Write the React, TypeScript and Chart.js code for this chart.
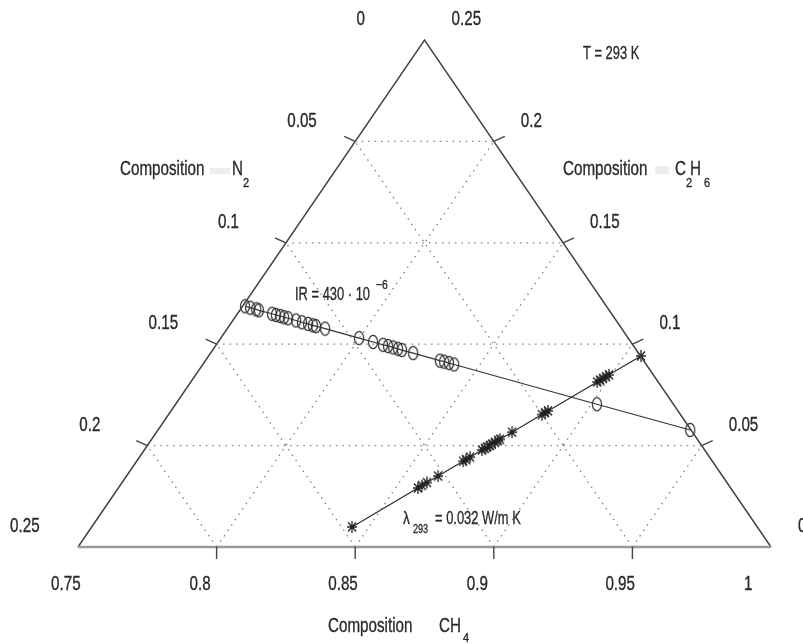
import React, { useEffect, useRef } from "react";
import { Chart, registerables } from "chart.js";
Chart.register(...registerables);

// Ternary axes (CH4 bottom, N2 left, C2H6 right)
const ch4Ticks = [0.75, 0.8, 0.85, 0.9, 0.95, 1];
const n2Ticks = [0, 0.05, 0.1, 0.15, 0.2, 0.25];
const c2h6Ticks = [0.25, 0.2, 0.15, 0.1, 0.05, 0];
const innerLevels = [0.05, 0.1, 0.15, 0.2];
const ch4GridLevels = [0.8, 0.85, 0.9, 0.95];

// Series "IR = 430·10^-6" (circles)
const irCH4 = [0.7509, 0.7531, 0.7557, 0.7569, 0.7625, 0.7642, 0.766, 0.7677, 0.7694, 0.7728, 0.7754, 0.778, 0.7801, 0.7814, 0.7853, 0.7999, 0.8059, 0.8102, 0.8123, 0.8145, 0.8166, 0.8183, 0.8231, 0.8346, 0.8364, 0.8385, 0.8407, 0.902, 0.942];
const irC2H6 = [0.1187, 0.118, 0.1172, 0.1167, 0.115, 0.1144, 0.1139, 0.1133, 0.1128, 0.1117, 0.1108, 0.11, 0.1093, 0.1089, 0.1077, 0.103, 0.1011, 0.0997, 0.0991, 0.0984, 0.0977, 0.0971, 0.0956, 0.0919, 0.0914, 0.0907, 0.09, 0.0704, 0.0577];

// Series "lambda_293 = 0.032 W/m K" (stars)
const lamCH4 = [0.8439, 0.8581, 0.8589, 0.86, 0.8624, 0.8678, 0.8684, 0.8693, 0.8718, 0.8725, 0.8729, 0.8736, 0.874, 0.8746, 0.8753, 0.8757, 0.8783, 0.8847, 0.8854, 0.886, 0.8966, 0.8972, 0.8978, 0.8985, 0.8991, 0.906];
const lamC2H6 = [0.0099, 0.0291, 0.0303, 0.0318, 0.035, 0.0423, 0.0431, 0.0443, 0.0478, 0.0487, 0.0493, 0.0501, 0.0507, 0.0516, 0.0525, 0.0531, 0.0566, 0.0653, 0.0662, 0.0671, 0.0814, 0.0823, 0.0831, 0.084, 0.0849, 0.0942];

const toXY = (ch4: number, c2h6: number) => ({ x: ch4 + c2h6 / 2, y: c2h6 });

const FONT = '"Liberation Sans", Arial, sans-serif';
const TXT = "#2a2a2a";

function txt(ctx: CanvasRenderingContext2D, s: string, x: number, cy: number, size: number, sx: number) {
  ctx.save();
  ctx.font = `${size}px ${FONT}`;
  ctx.fillStyle = TXT;
  ctx.strokeStyle = TXT;
  ctx.lineWidth = 0.35;
  ctx.textAlign = "left";
  ctx.textBaseline = "alphabetic";
  ctx.translate(x, cy + size * 0.36);
  ctx.scale(sx, 1);
  ctx.fillText(s, 0, 0);
  ctx.strokeText(s, 0, 0);
  ctx.restore();
}

function makeEllipse(): HTMLCanvasElement {
  const c = document.createElement("canvas");
  c.width = 12; c.height = 16;
  const g = c.getContext("2d")!;
  g.strokeStyle = "#333";
  g.lineWidth = 1.2;
  g.beginPath();
  g.ellipse(6, 8, 4.6, 6.6, 0, 0, Math.PI * 2);
  g.stroke();
  return c;
}

function makeStar(): HTMLCanvasElement {
  const c = document.createElement("canvas");
  c.width = 12; c.height = 14;
  const g = c.getContext("2d")!;
  g.strokeStyle = "#222";
  g.lineWidth = 1.3;
  g.beginPath();
  g.moveTo(6, 1); g.lineTo(6, 13);
  g.moveTo(1, 7); g.lineTo(11, 7);
  g.moveTo(2, 2.5); g.lineTo(10, 11.5);
  g.moveTo(10, 2.5); g.lineTo(2, 11.5);
  g.stroke();
  return c;
}

const ternaryPlugin = {
  id: "ternaryDecor",
  afterDatasetsDraw(chart: any) {
    const ctx: CanvasRenderingContext2D = chart.ctx;
    const xs = chart.scales.x, ys = chart.scales.y;
    const P = (ch4: number, c2: number) => {
      const p = toXY(ch4, c2);
      return [xs.getPixelForValue(p.x), ys.getPixelForValue(p.y)];
    };
    ctx.save();
    ctx.strokeStyle = "#444";
    ctx.lineWidth = 1.4;
    ch4Ticks.forEach((v) => {
      const [px, py] = P(v, 0);
      if (v > 0.75 && v < 1) {
        ctx.beginPath(); ctx.moveTo(px, py); ctx.lineTo(px, py + 12); ctx.stroke();
      }
      txt(ctx, String(v), px - 27, py + 36, 20, 0.76);
    });
    n2Ticks.forEach((n) => {
      const [px, py] = P(0.75, 0.25 - n);
      if (n > 0 && n < 0.25) {
        ctx.beginPath(); ctx.moveTo(px, py); ctx.lineTo(px - 11, py - 5); ctx.stroke();
      }
      txt(ctx, String(n), px - 68, py - 22, 20, 0.76);
    });
    c2h6Ticks.forEach((c) => {
      const [px, py] = P(1 - c, c);
      if (c > 0 && c < 0.25) {
        ctx.beginPath(); ctx.moveTo(px, py); ctx.lineTo(px + 11, py - 5); ctx.stroke();
      }
      txt(ctx, String(c), px + 27, py - 22, 20, 0.76);
    });
    ctx.restore();

    txt(ctx, "Composition", 120, 168, 20, 0.76);
    ctx.save(); ctx.fillStyle = "#ededed"; ctx.fillRect(210, 168, 20, 6); ctx.fillRect(655, 166, 14, 8); ctx.restore();
    txt(ctx, "N", 232, 168, 20, 0.76);
    txt(ctx, "2", 243, 182, 13, 0.85);
    txt(ctx, "Composition", 563, 168, 20, 0.76);
    txt(ctx, "C", 675, 168, 20, 0.76);
    txt(ctx, "2", 686, 182, 13, 0.85);
    txt(ctx, "H", 690, 168, 20, 0.76);
    txt(ctx, "6", 704, 182, 13, 0.85);
    txt(ctx, "Composition", 328, 625, 20, 0.76);
    txt(ctx, "CH", 439, 625, 20, 0.76);
    txt(ctx, "4", 463, 637, 13, 0.85);
    txt(ctx, "T = 293 K", 583, 52, 19, 0.68);
    txt(ctx, "IR = 430 \u00b7 10", 295, 293, 19, 0.68);
    txt(ctx, "\u22126", 376, 284, 13, 0.8);
    txt(ctx, "\u03bb", 403, 517, 19, 0.72);
    txt(ctx, "293", 413, 528, 13, 0.7);
    txt(ctx, "= 0.032 W/m K", 435, 517, 19, 0.68);
  },
};

export default function App() {
  const ref = useRef<HTMLCanvasElement>(null);
  useEffect(() => {
    const ellipse = makeEllipse();
    const star = makeStar();
    const gridStyle = {
      showLine: true,
      borderColor: "#808080",
      borderWidth: 1.3,
      borderDash: [1.5, 5],
      pointRadius: 0,
      fill: false,
    };
    const gridSets: any[] = [];
    innerLevels.forEach((c) => {
      gridSets.push({ ...gridStyle, data: [toXY(0.75, c), toXY(1 - c, c)] });
    });
    ch4GridLevels.forEach((v) => {
      gridSets.push({ ...gridStyle, data: [toXY(v, 0), toXY(v, 1 - v)] });
    });
    innerLevels.forEach((n) => {
      gridSets.push({ ...gridStyle, data: [toXY(1 - n, 0), toXY(0.75, 0.25 - n)] });
    });
    const chart = new Chart(ref.current!, {
      type: "scatter",
      data: {
        datasets: [
          ...gridSets,
          {
            showLine: true, borderColor: "#9a9a9a", borderWidth: 2.6, pointRadius: 0,
            data: [toXY(0.75, 0), toXY(1, 0)],
          },
          {
            showLine: true, borderColor: "#444", borderWidth: 1.5, pointRadius: 0,
            data: [toXY(0.75, 0), toXY(0.75, 0.25), toXY(1, 0)],
          },
          {
            showLine: true, borderColor: "#333", borderWidth: 1.2,
            pointStyle: ellipse as any, pointRadius: 6,
            data: irCH4.map((v, i) => toXY(v, irC2H6[i])),
          },
          {
            showLine: true, borderColor: "#2a2a2a", borderWidth: 1.2,
            pointStyle: star as any, pointRadius: 6,
            data: lamCH4.map((v, i) => toXY(v, lamC2H6[i])),
          },
        ] as any,
      },
      options: {
        animation: false,
        responsive: false,
        clip: false as any,
        layout: { padding: { left: 78, right: 32, top: 40, bottom: 97 } },
        scales: {
          x: { type: "linear", min: 0.75, max: 1, display: false },
          y: { type: "linear", min: 0, max: 0.25, display: false },
        },
        plugins: { legend: { display: false }, tooltip: { enabled: false } },
        elements: { line: { tension: 0 } },
      },
      plugins: [ternaryPlugin],
    });
    return () => chart.destroy();
  }, []);
  return (
    <div style={{ position: "fixed", left: 0, top: 0, width: 803, height: 644, background: "#fff" }}>
      <canvas ref={ref} width={803} height={644} style={{ display: "block" }} />
    </div>
  );
}
